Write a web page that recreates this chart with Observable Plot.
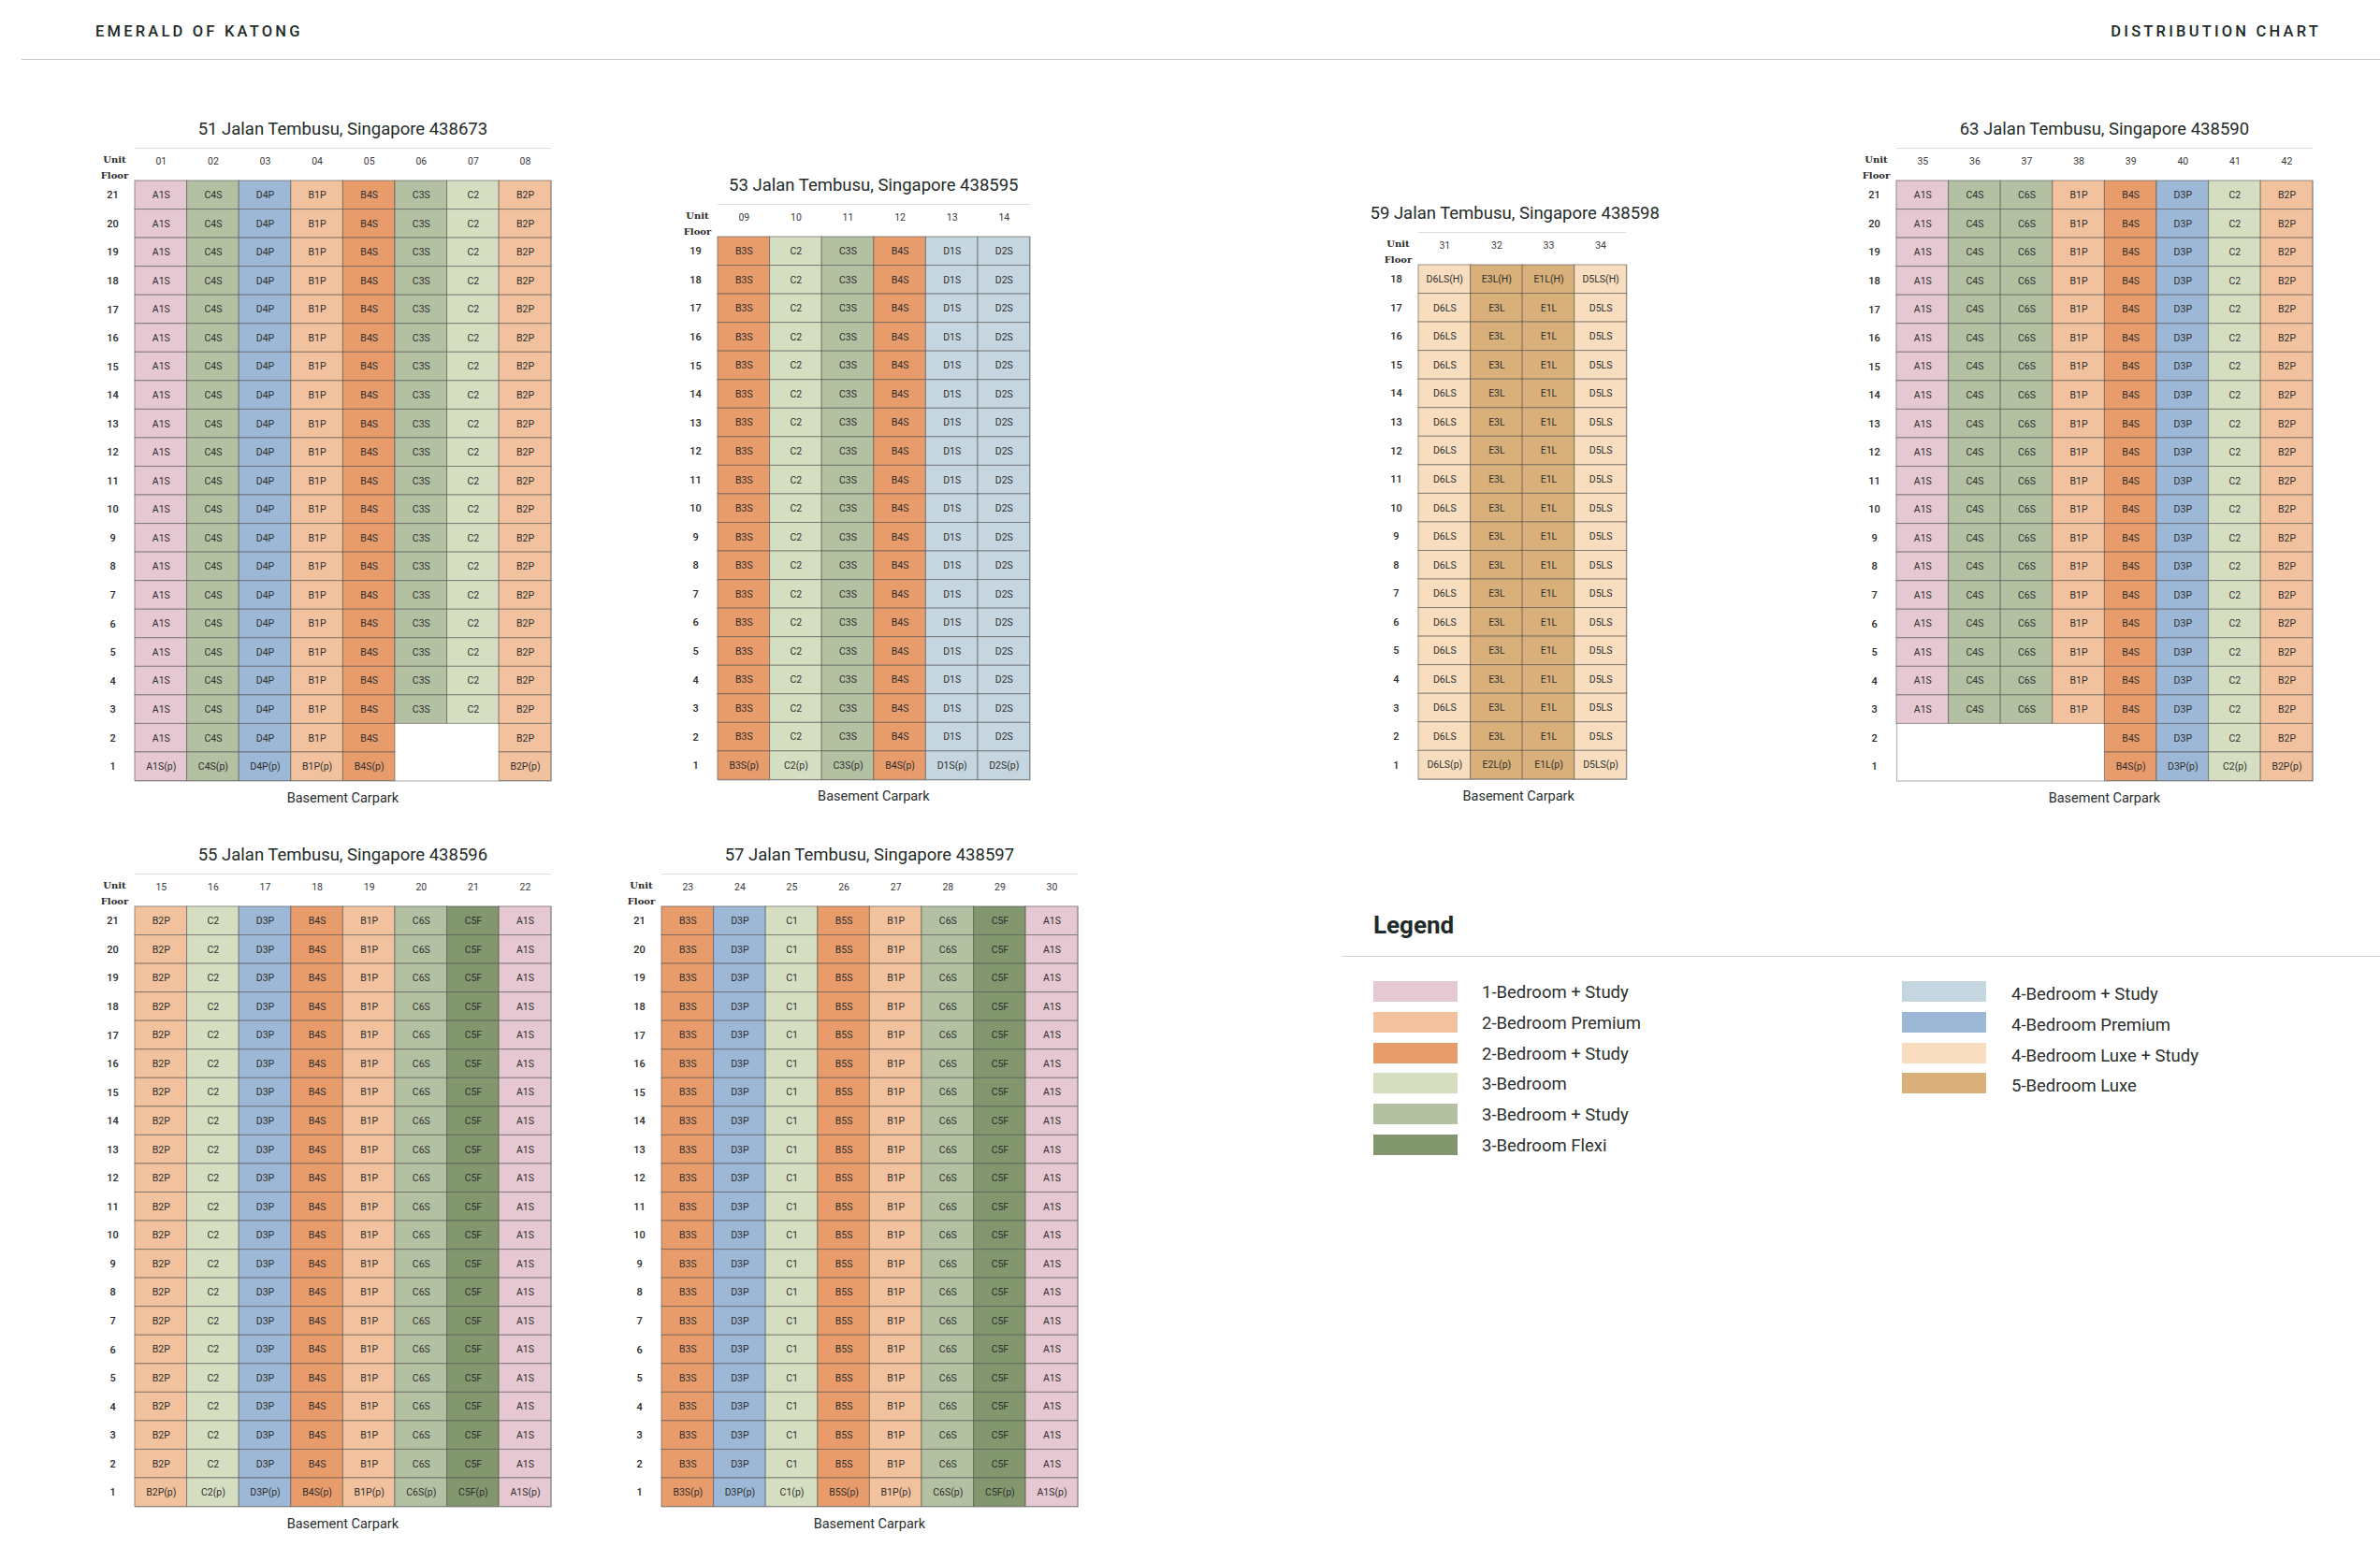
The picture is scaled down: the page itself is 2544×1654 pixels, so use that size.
<!DOCTYPE html>
<html>
<head>
<meta charset="utf-8">
<script src="https://cdn.jsdelivr.net/npm/d3@7"></script>
<script src="https://cdn.jsdelivr.net/npm/@observablehq/plot@0.6"></script>
<style>
  html, body { margin: 0; padding: 0; background: #fff; }
  body { font-family: Roboto, "Noto Sans", sans-serif; color: #1e2b28; }
  #page { position: relative; width: 2544px; height: 1654px; overflow: hidden; background: #fff; }
  .abs { position: absolute; white-space: nowrap; }
  .hdr { font-size: 16.5px; font-weight: 500; letter-spacing: 3.2px; color: #1e2b28; transform: translateY(-50%); }
  .title { font-size: 18.5px; color: #1f2b29; transform: translate(-50%, -50%); }
  .basement { font-size: 14.5px; color: #2a2f2e; transform: translate(-50%, -50%); }
  .hline { height: 0; border-top: 1.5px solid #dcdcdc; }
  .legtitle { font-size: 26px; font-weight: 700; color: #1e2b28; transform: translateY(-50%); }
  .leglabel { font-size: 18.5px; color: #2b2f2e; transform: translateY(-50%); }
</style>
</head>
<body>
<div id="page"></div>
<script>
// ---------- categories & colours ----------
const categories = ["1-Bedroom + Study", "2-Bedroom Premium", "2-Bedroom + Study", "3-Bedroom", "3-Bedroom + Study", "3-Bedroom Flexi", "4-Bedroom + Study", "4-Bedroom Premium", "4-Bedroom Luxe + Study", "5-Bedroom Luxe"];
const categoryColors = ["#E6C8D2", "#F2C29E", "#E89C6C", "#D6DEC2", "#B3C0A2", "#82976E", "#C6D6E0", "#9DB8D6", "#F8DEBF", "#D9B079"];
const unitTypeCodes    = ["A1S", "B1P", "B2P", "B3S", "B4S", "B5S", "C1", "C2", "C3S", "C4S", "C6S", "C5F", "D1S", "D2S", "D3P", "D4P", "D5LS", "D6LS", "E1L", "E2L", "E3L"];
const unitTypeCategory = [0, 1, 1, 2, 2, 2, 3, 3, 4, 4, 4, 5, 6, 6, 7, 7, 8, 8, 9, 9, 9];

// ---------- blocks ----------
const block51Title = "51 Jalan Tembusu, Singapore 438673";
const block51Units = ["01", "02", "03", "04", "05", "06", "07", "08"];
const block51Types = ["A1S", "C4S", "D4P", "B1P", "B4S", "C3S", "C2", "B2P"];
const block51Ground = ["A1S(p)", "C4S(p)", "D4P(p)", "B1P(p)", "B4S(p)", "", "", "B2P(p)"];
const block51Lowest = [1, 1, 1, 1, 1, 3, 3, 1];
const block51Top = 21;

const block53Title = "53 Jalan Tembusu, Singapore 438595";
const block53Units = ["09", "10", "11", "12", "13", "14"];
const block53Types = ["B3S", "C2", "C3S", "B4S", "D1S", "D2S"];
const block53Ground = ["B3S(p)", "C2(p)", "C3S(p)", "B4S(p)", "D1S(p)", "D2S(p)"];
const block53Lowest = [1, 1, 1, 1, 1, 1];
const block53Top = 19;

const block59Title = "59 Jalan Tembusu, Singapore 438598";
const block59Units = ["31", "32", "33", "34"];
const block59Types = ["D6LS", "E3L", "E1L", "D5LS"];
const block59Ground = ["D6LS(p)", "E2L(p)", "E1L(p)", "D5LS(p)"];
const block59Penthouse = ["D6LS(H)", "E3L(H)", "E1L(H)", "D5LS(H)"];
const block59Lowest = [1, 1, 1, 1];
const block59Top = 18;

const block63Title = "63 Jalan Tembusu, Singapore 438590";
const block63Units = ["35", "36", "37", "38", "39", "40", "41", "42"];
const block63Types = ["A1S", "C4S", "C6S", "B1P", "B4S", "D3P", "C2", "B2P"];
const block63Ground = ["", "", "", "", "B4S(p)", "D3P(p)", "C2(p)", "B2P(p)"];
const block63Lowest = [3, 3, 3, 3, 1, 1, 1, 1];
const block63Top = 21;

const block55Title = "55 Jalan Tembusu, Singapore 438596";
const block55Units = ["15", "16", "17", "18", "19", "20", "21", "22"];
const block55Types = ["B2P", "C2", "D3P", "B4S", "B1P", "C6S", "C5F", "A1S"];
const block55Ground = ["B2P(p)", "C2(p)", "D3P(p)", "B4S(p)", "B1P(p)", "C6S(p)", "C5F(p)", "A1S(p)"];
const block55Lowest = [1, 1, 1, 1, 1, 1, 1, 1];
const block55Top = 21;

const block57Title = "57 Jalan Tembusu, Singapore 438597";
const block57Units = ["23", "24", "25", "26", "27", "28", "29", "30"];
const block57Types = ["B3S", "D3P", "C1", "B5S", "B1P", "C6S", "C5F", "A1S"];
const block57Ground = ["B3S(p)", "D3P(p)", "C1(p)", "B5S(p)", "B1P(p)", "C6S(p)", "C5F(p)", "A1S(p)"];
const block57Lowest = [1, 1, 1, 1, 1, 1, 1, 1];
const block57Top = 21;

const headerLeft = "EMERALD OF KATONG";
const headerRight = "DISTRIBUTION CHART";
const basementLabel = "Basement Carpark";
const legendTitle = "Legend";

// ---------- layout ----------
const page = document.getElementById("page");
const COLW = 55.6, ROWH = 30.55;
const ML = 60, MT = 40, MR = 3, MB = 3;

function addDiv(cls, text, css) {
  const d = document.createElement("div");
  d.className = "abs " + cls;
  d.textContent = text;
  Object.assign(d.style, css);
  page.appendChild(d);
  return d;
}

function categoryOf(label) {
  const code = label.replace(/\(.*\)$/, "");
  return categories[unitTypeCategory[unitTypeCodes.indexOf(code)]];
}

function drawBlock(b, gridLeft, gridTop, titleShift = 0, baseShift = 0) {
  const rows = [];
  b.units.forEach((u, i) => {
    for (let f = b.top; f >= b.lowest[i]; f--) {
      let label = f === 1 ? b.ground[i] : (f === b.top && b.penthouse ? b.penthouse[i] : b.types[i]);
      if (!label) continue;
      rows.push({unit: u, floor: f, label, cat: categoryOf(label)});
    }
  });
  const gridW = COLW * b.units.length;
  const gridH = ROWH * b.top;
  const svg = Plot.plot({
    width: ML + gridW + MR,
    height: MT + gridH + MB,
    marginLeft: ML, marginTop: MT, marginRight: MR, marginBottom: MB,
    style: {fontFamily: "Roboto, 'Noto Sans', sans-serif", fontSize: "10.5px", color: "#3a3a3a", background: "transparent", overflow: "visible"},
    x: {type: "band", domain: b.units, padding: 0, round: false},
    y: {type: "band", domain: d3.range(b.top, 0, -1), padding: 0, round: false},
    color: {type: "ordinal", domain: categories, range: categoryColors},
    marks: [
      Plot.frame({stroke: "#b8b8b8", strokeWidth: 1.2}),
      Plot.cell(rows, {x: "unit", y: "floor", fill: "cat", stroke: "#4a4a4a", strokeOpacity: 0.55, strokeWidth: 1}),
      Plot.text(rows, {x: "unit", y: "floor", text: "label", fill: "#2e2e2e", fontSize: 10.5}),
      Plot.axisX({anchor: "top", tickSize: 0, tickPadding: 17, label: null, fontSize: 10.5}),
      Plot.axisY({anchor: "left", tickSize: 0, tickPadding: 24, textAnchor: "middle", label: null, fontSize: 11, fontWeight: 500, fill: "#2a2a2a"}),
      Plot.text(["Unit"], {frameAnchor: "top-left", dx: -22, dy: -23, textAnchor: "middle", lineAnchor: "middle", fontFamily: "'DejaVu Serif', serif", fontWeight: "bold", fontSize: 10, fill: "#2a2a2a"}),
      Plot.text(["Floor"], {frameAnchor: "top-left", dx: -22, dy: -6, textAnchor: "middle", lineAnchor: "middle", fontFamily: "'DejaVu Serif', serif", fontWeight: "bold", fontSize: 10, fill: "#2a2a2a"})
    ]
  });
  svg.style.position = "absolute";
  svg.style.left = (gridLeft - ML) + "px";
  svg.style.top = (gridTop - MT) + "px";
  page.appendChild(svg);
  addDiv("hline", "", {left: gridLeft + "px", top: (gridTop - 35) + "px", width: gridW + "px"});
  addDiv("title", b.title, {left: (gridLeft + gridW / 2 + titleShift) + "px", top: (gridTop - 55) + "px"});
  addDiv("basement", basementLabel, {left: (gridLeft + gridW / 2 + baseShift) + "px", top: (gridTop + gridH + 18) + "px"});
}

// page header
addDiv("hdr", headerLeft, {left: "102px", top: "33px"});
addDiv("hdr", headerRight, {right: (2544 - 2478 - 3) + "px", top: "33px"});
addDiv("", "", {left: "23px", top: "63px", width: "2521px", height: "0", borderTop: "1.5px solid #c4c4c4"});

drawBlock({title: block51Title, units: block51Units, types: block51Types, ground: block51Ground, lowest: block51Lowest, top: block51Top}, 144, 193);
drawBlock({title: block53Title, units: block53Units, types: block53Types, ground: block53Ground, lowest: block53Lowest, top: block53Top}, 767, 253);
drawBlock({title: block59Title, units: block59Units, types: block59Types, ground: block59Ground, penthouse: block59Penthouse, lowest: block59Lowest, top: block59Top}, 1516, 283, -8, -4);
drawBlock({title: block63Title, units: block63Units, types: block63Types, ground: block63Ground, lowest: block63Lowest, top: block63Top}, 2027, 193);
drawBlock({title: block55Title, units: block55Units, types: block55Types, ground: block55Ground, lowest: block55Lowest, top: block55Top}, 144, 969);
drawBlock({title: block57Title, units: block57Units, types: block57Types, ground: block57Ground, lowest: block57Lowest, top: block57Top}, 707, 969);

// legend
addDiv("legtitle", legendTitle, {left: "1468px", top: "989px"});
addDiv("", "", {left: "1434px", top: "1022px", width: "1110px", height: "0", borderTop: "1.5px solid #d4d4d4"});
categories.forEach((c, i) => {
  const col = i < 6 ? 0 : 1;
  const r = i < 6 ? i : i - 6;
  const cy = 1060 + r * 32.8;
  const sx = col === 0 ? 1468 : 2033;
  const lx = col === 0 ? 1584 : 2150;
  addDiv("", "", {left: sx + "px", top: (cy - 11) + "px", width: "90px", height: "22px", background: categoryColors[i]});
  addDiv("leglabel", c, {left: lx + "px", top: (cy + 1 + col * 2) + "px"});
});
</script>
</body>
</html>
